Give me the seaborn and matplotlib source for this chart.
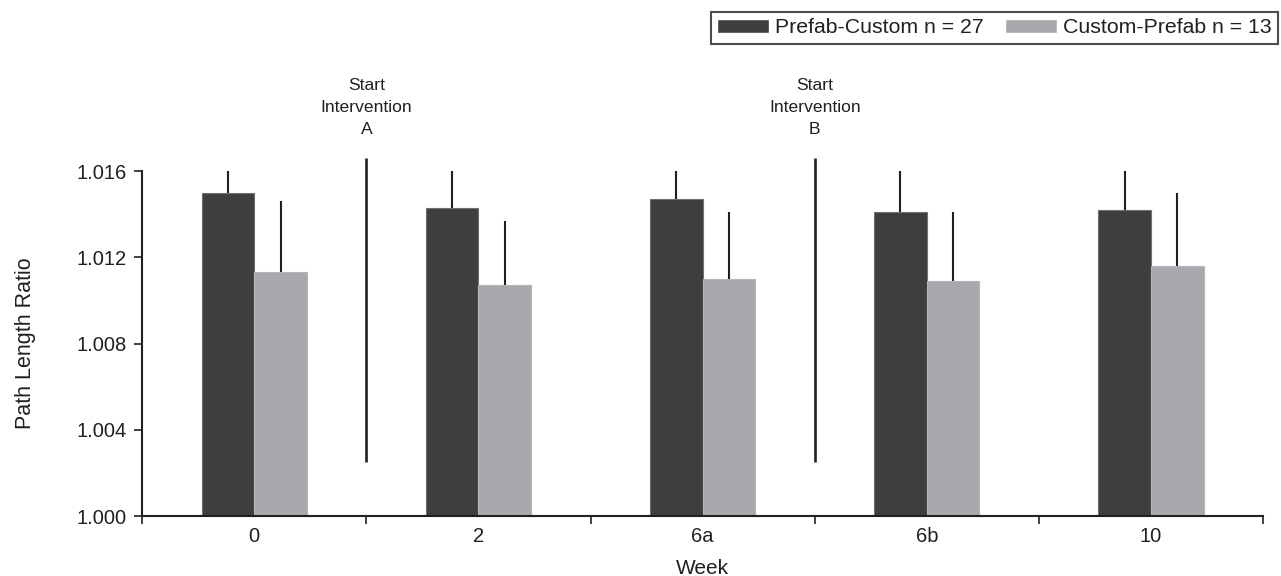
"""Path length ratio by week, two intervention orders."""

import matplotlib
matplotlib.use("Agg")
import matplotlib.pyplot as plt
import pandas as pd
import seaborn as sns

weeks = ["0", "2", "6a", "6b", "10"]
groups = ["Prefab-Custom n = 27", "Custom-Prefab n = 13"]
prefab_custom = [1.0150, 1.0143, 1.0147, 1.0141, 1.0142]
prefab_custom_err_top = [1.0160, 1.0160, 1.0160, 1.0160, 1.0160]
custom_prefab = [1.0113, 1.0107, 1.0110, 1.0109, 1.0116]
custom_prefab_err_top = [1.0146, 1.0137, 1.0141, 1.0141, 1.0150]
intervention_at = [0.5, 2.5]
intervention_labels = ["Start\nIntervention\nA", "Start\nIntervention\nB"]
intervention_span = (1.00252, 1.01662)

DARK = "#3e3e3e"
LIGHT = "#a8a9ac"
INK = "#231f20"

frame = pd.DataFrame(
    {
        "week": weeks * 2,
        "group": [groups[0]] * len(weeks) + [groups[1]] * len(weeks),
        "ratio": prefab_custom + custom_prefab,
    }
)

sns.set_theme(style="ticks")
plt.rcParams["font.family"] = ["Liberation Sans", "DejaVu Sans"]
plt.rcParams["text.color"] = INK

fig = plt.figure(figsize=(12.81, 5.76), dpi=100)
ax = fig.add_axes([0.111, 0.104, 0.875, 0.599])

sns.barplot(
    data=frame,
    x="week",
    y="ratio",
    hue="group",
    order=weeks,
    hue_order=groups,
    palette=[DARK, LIGHT],
    width=0.47,
    saturation=1,
    errorbar=None,
    ax=ax,
)

# upper-only error whiskers at the bar centres seaborn placed
tops = {groups[0]: prefab_custom_err_top, groups[1]: custom_prefab_err_top}
vals = {groups[0]: prefab_custom, groups[1]: custom_prefab}
for container, name in zip(ax.containers, groups):
    centres = [p.get_x() + p.get_width() / 2 for p in container.patches]
    for p in container.patches:
        p.set_edgecolor("#707070" if name == groups[0] else "#b5b6b8")
        p.set_linewidth(0.8)
    upper = [t - v for t, v in zip(tops[name], vals[name])]
    ax.errorbar(
        centres,
        vals[name],
        yerr=[[0] * len(upper), upper],
        fmt="none",
        ecolor=INK,
        elinewidth=1.5,
        capsize=0,
    )

for xpos, label in zip(intervention_at, intervention_labels):
    ax.plot(
        [xpos, xpos],
        intervention_span,
        color=INK,
        lw=1.9,
        clip_on=False,
        solid_capstyle="butt",
    )
    ax.text(
        xpos,
        1.0176,
        label,
        ha="center",
        va="bottom",
        fontsize=12.6,
        linespacing=1.55,
        clip_on=False,
    )

ax.set_ylim(1.000, 1.016)
ax.set_yticks([1.000, 1.004, 1.008, 1.012, 1.016])
ax.set_yticklabels([f"{v:.3f}" for v in ax.get_yticks()])
ax.set_xlim(-0.5, len(weeks) - 0.5)
ax.set_xticks([i - 0.5 for i in range(len(weeks) + 1)])
ax.set_xticklabels([])
ax.set_xticks(range(len(weeks)), minor=True)
ax.set_xticklabels(weeks, minor=True)
ax.tick_params(axis="x", which="major", length=6, width=1.2, color=INK)
ax.tick_params(axis="x", which="minor", length=0, pad=8, labelsize=14.5, labelcolor=INK)
ax.tick_params(axis="y", length=6, width=1.2, color=INK, pad=5,
               labelsize=14.5, labelcolor=INK)

ax.set_xlabel("Week", fontsize=15, color=INK, labelpad=9)
ax.set_ylabel("Path Length Ratio", fontsize=15.5, color=INK)
ax.yaxis.set_label_coords(-0.095, 0.5)

sns.despine(ax=ax)
for side in ("left", "bottom"):
    ax.spines[side].set_color(INK)
    ax.spines[side].set_linewidth(1.5)

handles, labels = ax.get_legend_handles_labels()
ax.legend_.remove()
leg = fig.legend(
    handles,
    labels,
    loc="upper right",
    bbox_to_anchor=(0.998, 0.979),
    ncol=2,
    frameon=True,
    fancybox=False,
    fontsize=15.3,
    handlelength=2.45,
    handleheight=0.7,
    handletextpad=0.28,
    columnspacing=1.0,
    borderpad=0.3,
    borderaxespad=0,
)
leg.get_frame().set_edgecolor(INK)
leg.get_frame().set_linewidth(1.5)

fig.savefig("out.png", dpi=100)
